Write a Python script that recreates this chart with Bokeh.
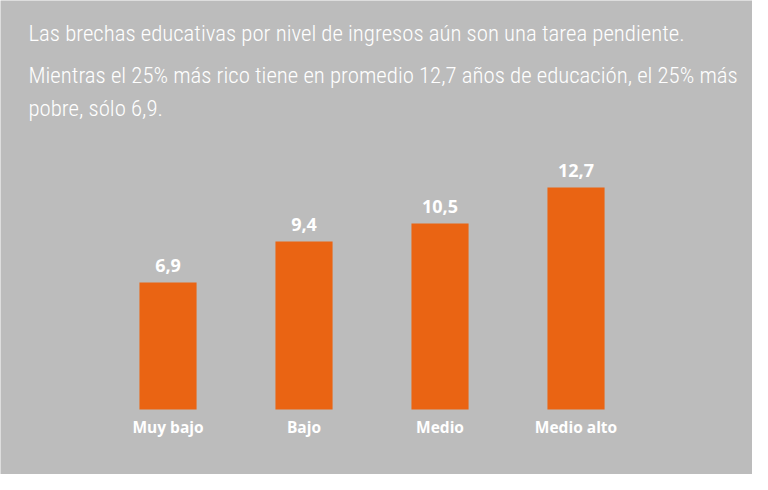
from bokeh.plotting import figure
from bokeh.models import ColumnDataSource, FactorRange, Range1d, Label
from bokeh.transform import dodge
from bokeh.embed import file_html
from bokeh.resources import INLINE

categories = ["Muy bajo", "Bajo", "Medio", "Medio alto"]
years = [6.9, 9.4, 10.5, 12.7]
value_labels = ["6,9", "9,4", "10,5", "12,7"]

title_lines = [
    "Las brechas educativas por nivel de ingresos aún son una tarea pendiente.",
    "Mientras el 25% más rico tiene en promedio 12,7 años de educación, el 25% más",
    "pobre, sólo 6,9.",
]

BG = "#bcbcbc"
BAR = "#ea6413"
TITLE_FONT = "'Roboto Condensed Light', 'Roboto Condensed'"
BASE = -0.855  # visual baseline of bars

src = ColumnDataSource(dict(cat=categories, val=years, lab=value_labels))

x_range = FactorRange(*categories, range_padding=0.7647, range_padding_units="absolute")
p = figure(
    x_range=x_range,
    y_range=Range1d(-4.823, 24.115),
    width=752, height=474,
    output_backend="svg", toolbar_location=None,
    x_axis_location=None, y_axis_location=None,
    min_border_left=0, min_border_right=0, min_border_top=0, min_border_bottom=0,
    background_fill_color=BG, border_fill_color=BG, outline_line_color=None,
)
p.grid.visible = False

xs = dodge("cat", -0.033, range=x_range)

p.vbar(x=xs, top="val", bottom=BASE, width=0.42, source=src,
       fill_color=BAR, line_color=None)

p.text(x=xs, y="val", text="lab", source=src, text_align="center",
       text_baseline="alphabetic", y_offset=-17, text_color="white",
       text_font_size="18px", text_font={"value": "Open Sans"}, text_font_style="bold")

p.text(x=xs, y=BASE, text="cat", source=src, text_align="center",
       text_baseline="alphabetic", y_offset=17, text_color="white",
       text_font_size="15.5px", text_font={"value": "Open Sans"}, text_font_style="bold")

title_y = [441, 399, 366]
for line, ty in zip(title_lines, title_y):
    p.add_layout(Label(x=28, y=ty, x_units="screen", y_units="screen", text=line,
                       text_color="white", text_font=TITLE_FONT,
                       text_font_size="22.8px", text_baseline="alphabetic"))

open("out.html", "w").write(file_html(p, INLINE))
